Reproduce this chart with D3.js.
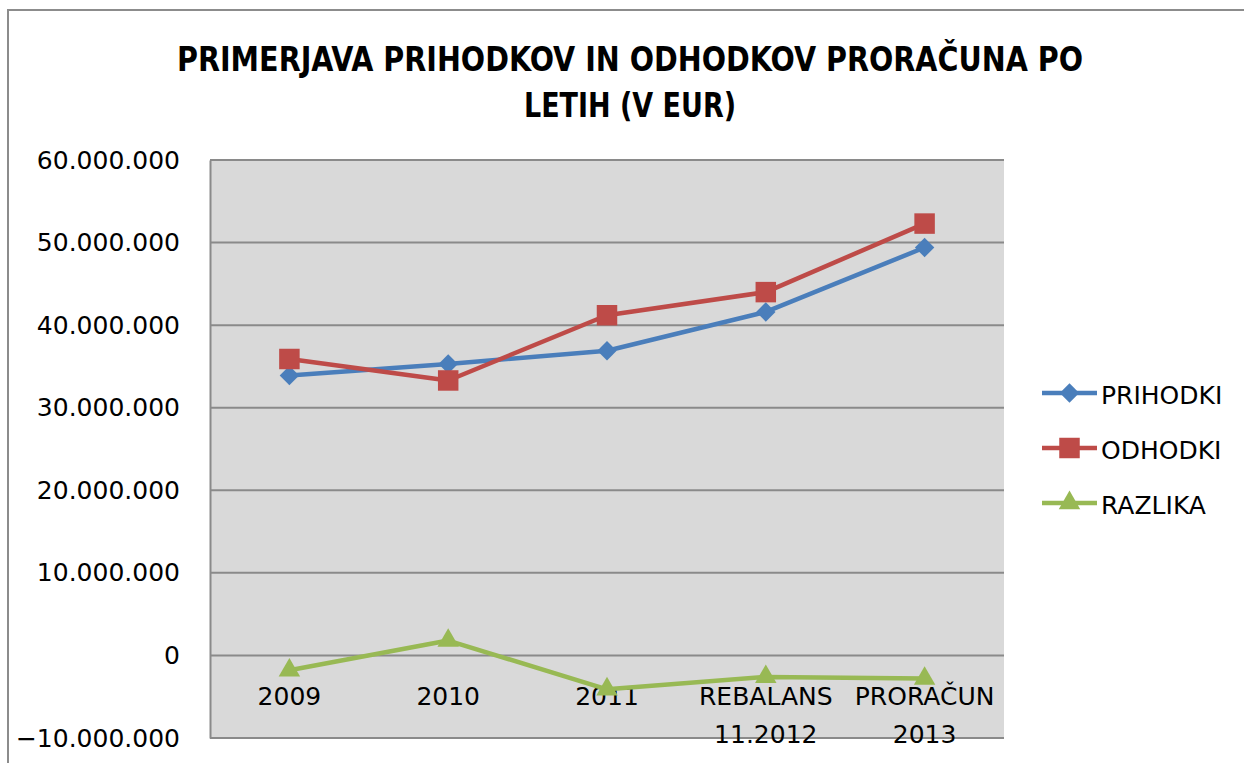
<!DOCTYPE html>
<html>
<head>
<meta charset="utf-8">
<script src="https://cdn.jsdelivr.net/npm/d3@7"></script>
<style>
  body { margin: 0; background: #fff; }
  svg { display: block; }
</style>
</head>
<body>
<div id="chart"></div>
<script>
const categories = ["2009", "2010", "2011", "REBALANS 11.2012", "PRORAČUN 2013"];
const prihodki = [33900000, 35300000, 36900000, 41600000, 49400000];
const odhodki = [35900000, 33300000, 41200000, 44000000, 52300000];
const razlika = [-1800000, 1800000, -4100000, -2600000, -2800000];
const yTicks = [-10000000, 0, 10000000, 20000000, 30000000, 40000000, 50000000, 60000000];

const series = [
    { name: "PRIHODKI", values: prihodki, color: "#4a7ebb", marker: d3.symbolDiamond2, size: 240 },
    { name: "ODHODKI", values: odhodki, color: "#be4b48", marker: d3.symbolSquare, size: 420 },
    { name: "RAZLIKA", values: razlika, color: "#98b954", marker: d3.symbolTriangle, size: 200 }
];

const width = 1244, height = 763;
const plot = { left: 210, right: 1004, top: 160, bottom: 738 };

const svg = d3.select("#chart").append("svg")
    .attr("width", width)
    .attr("height", height);

// outer chart frame
svg.append("rect")
    .attr("x", 8).attr("y", 10)
    .attr("width", width + 20).attr("height", height + 20)
    .attr("fill", "#fff")
    .attr("stroke", "#8c8c8c")
    .attr("stroke-width", 2);

// title
const title = svg.append("text")
    .attr("text-anchor", "middle")
    .attr("font-family", "'Liberation Sans Narrow', 'DejaVu Sans Condensed', 'Open Sans', sans-serif")
    .attr("font-weight", "bold")
    .attr("font-size", 34)
    .attr("fill", "#000");
title.append("tspan").attr("x", 630).attr("y", 71)
    .attr("textLength", 906).attr("lengthAdjust", "spacingAndGlyphs")
    .text("PRIMERJAVA PRIHODKOV IN ODHODKOV PRORAČUNA PO");
title.append("tspan").attr("x", 630).attr("y", 117)
    .attr("textLength", 212).attr("lengthAdjust", "spacingAndGlyphs")
    .text("LETIH (V EUR)");

const x = d3.scaleBand()
    .domain(categories)
    .range([plot.left, plot.right]);

const y = d3.scaleLinear()
    .domain([-10000000, 60000000])
    .range([plot.bottom, plot.top]);

svg.append("rect")
    .attr("x", plot.left).attr("y", plot.top)
    .attr("width", plot.right - plot.left)
    .attr("height", plot.bottom - plot.top)
    .attr("fill", "#d9d9d9");

// gridlines
svg.append("g")
    .selectAll("line")
    .data(yTicks)
    .join("line")
    .attr("x1", plot.left).attr("x2", plot.right)
    .attr("y1", d => y(d)).attr("y2", d => y(d))
    .attr("stroke", "#8a8a8a")
    .attr("stroke-width", 2);

// y axis
const fmt = d => d === 0 ? "0" : d3.format(",")(d).replace(/,/g, ".");
const yAxis = svg.append("g")
    .attr("transform", `translate(${plot.left},0)`)
    .call(d3.axisLeft(y).tickValues(yTicks).tickSize(0).tickPadding(30).tickFormat(fmt));
yAxis.select(".domain").attr("stroke", "#8a8a8a").attr("stroke-width", 2);
yAxis.selectAll("text")
    .attr("font-family", "'DejaVu Sans', Verdana, sans-serif")
    .attr("font-size", 25)
    .attr("fill", "#000");

// category labels sit under the zero line
const xLabels = svg.append("g")
    .selectAll("text")
    .data(categories)
    .join("text")
    .attr("text-anchor", "middle")
    .attr("font-family", "'DejaVu Sans', Verdana, sans-serif")
    .attr("font-size", 25)
    .attr("fill", "#000");
xLabels.each(function(d) {
    const parts = d.split(" ");
    const cx = x(d) + x.bandwidth() / 2;
    parts.forEach((p, i) => {
        d3.select(this).append("tspan")
            .attr("x", cx)
            .attr("y", 705 + i * 38)
            .text(p);
    });
});

const line = d3.line()
    .x((d, i) => x(categories[i]) + x.bandwidth() / 2)
    .y(d => y(d));

series.forEach(s => {
    svg.append("path")
        .datum(s.values)
        .attr("fill", "none")
        .attr("stroke", s.color)
        .attr("stroke-width", 4.5)
        .attr("stroke-linejoin", "round")
        .attr("d", line);

    svg.append("g")
        .selectAll("path")
        .data(s.values)
        .join("path")
        .attr("transform", (d, i) => `translate(${x(categories[i]) + x.bandwidth() / 2},${y(d)})`)
        .attr("d", d3.symbol().type(s.marker).size(s.size))
        .attr("fill", s.color);
});

// legend
const legend = svg.append("g")
    .selectAll("g")
    .data(series)
    .join("g")
    .attr("transform", (d, i) => `translate(1042,${393 + i * 55})`);
legend.append("line")
    .attr("x1", 0).attr("x2", 55)
    .attr("stroke", d => d.color)
    .attr("stroke-width", 4.5);
legend.append("path")
    .attr("transform", "translate(27.5,0)")
    .attr("d", d => d3.symbol().type(d.marker).size(d.size)())
    .attr("fill", d => d.color);
legend.append("text")
    .attr("x", 59)
    .attr("y", 11)
    .attr("font-family", "'DejaVu Sans', Verdana, sans-serif")
    .attr("font-size", 25)
    .attr("fill", "#000")
    .text(d => d.name);
</script>
</body>
</html>
